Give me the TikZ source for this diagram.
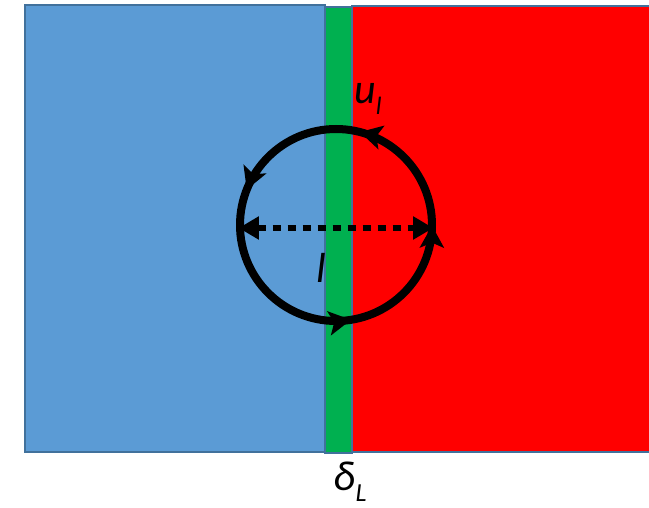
\documentclass[tikz,border=0pt]{standalone}
\usepackage{fontspec}
\setmainfont{Carlito}
\usetikzlibrary{arrows.meta,decorations.markings}

\begin{document}
\begin{tikzpicture}[x=1pt,y=1pt,
panel/.style={draw=edgeblue,line width=1.5pt},
looptip/.tip={Stealth[length=22pt,width=24pt,inset=5pt]},
loopline/.style={line width=8pt,postaction={decorate},
  decoration={markings,
    mark=at position 0.21 with {\arrow{looptip}},
    mark=at position 0.44 with {\arrow{looptip}},
    mark=at position 0.775 with {\arrow{looptip}},
    mark=at position 0.999 with {\arrow{looptip}}}},
dotarrow/.style={line width=6.5pt,dash pattern=on 8pt off 7pt,
  {Triangle[length=20pt,width=22pt]}-{Triangle[length=20pt,width=22pt]}},
lbl/.style={font=\fontsize{42}{48}\selectfont\itshape,inner sep=0pt}
]
\useasboundingbox (0,0) rectangle (649,507);
\definecolor{coldblue}{HTML}{5B9BD5}
\definecolor{flamegreen}{HTML}{00B050}
\definecolor{hotred}{HTML}{FF0000}
\definecolor{edgeblue}{HTML}{41719C}
% regions
\draw[panel,fill=coldblue] (25,55) rectangle (325,502);
\draw[panel,fill=hotred] (352,55) rectangle (660,501);
\draw[panel,fill=flamegreen] (325,54) rectangle (352,500);
% eddy
\coordinate (ctr) at (336,282);
\node[circle,minimum size=194pt,inner sep=0pt] (eddy) at (ctr) {};
\draw[loopline] (ctr) circle[radius=96];
\draw[dotarrow] ([yshift=-3pt]eddy.west) -- ([yshift=-3pt]eddy.east);
% labels
\node[lbl] (ul) at (368,408) {u\raisebox{-11pt}{\fontsize{25}{28}\selectfont l}};
\node[lbl] (len) at (321,239) {l};
\node[lbl] (delta) at (350,25) {δ\raisebox{-11pt}{\fontsize{26}{30}\selectfont L}};
\end{tikzpicture}
\end{document}
